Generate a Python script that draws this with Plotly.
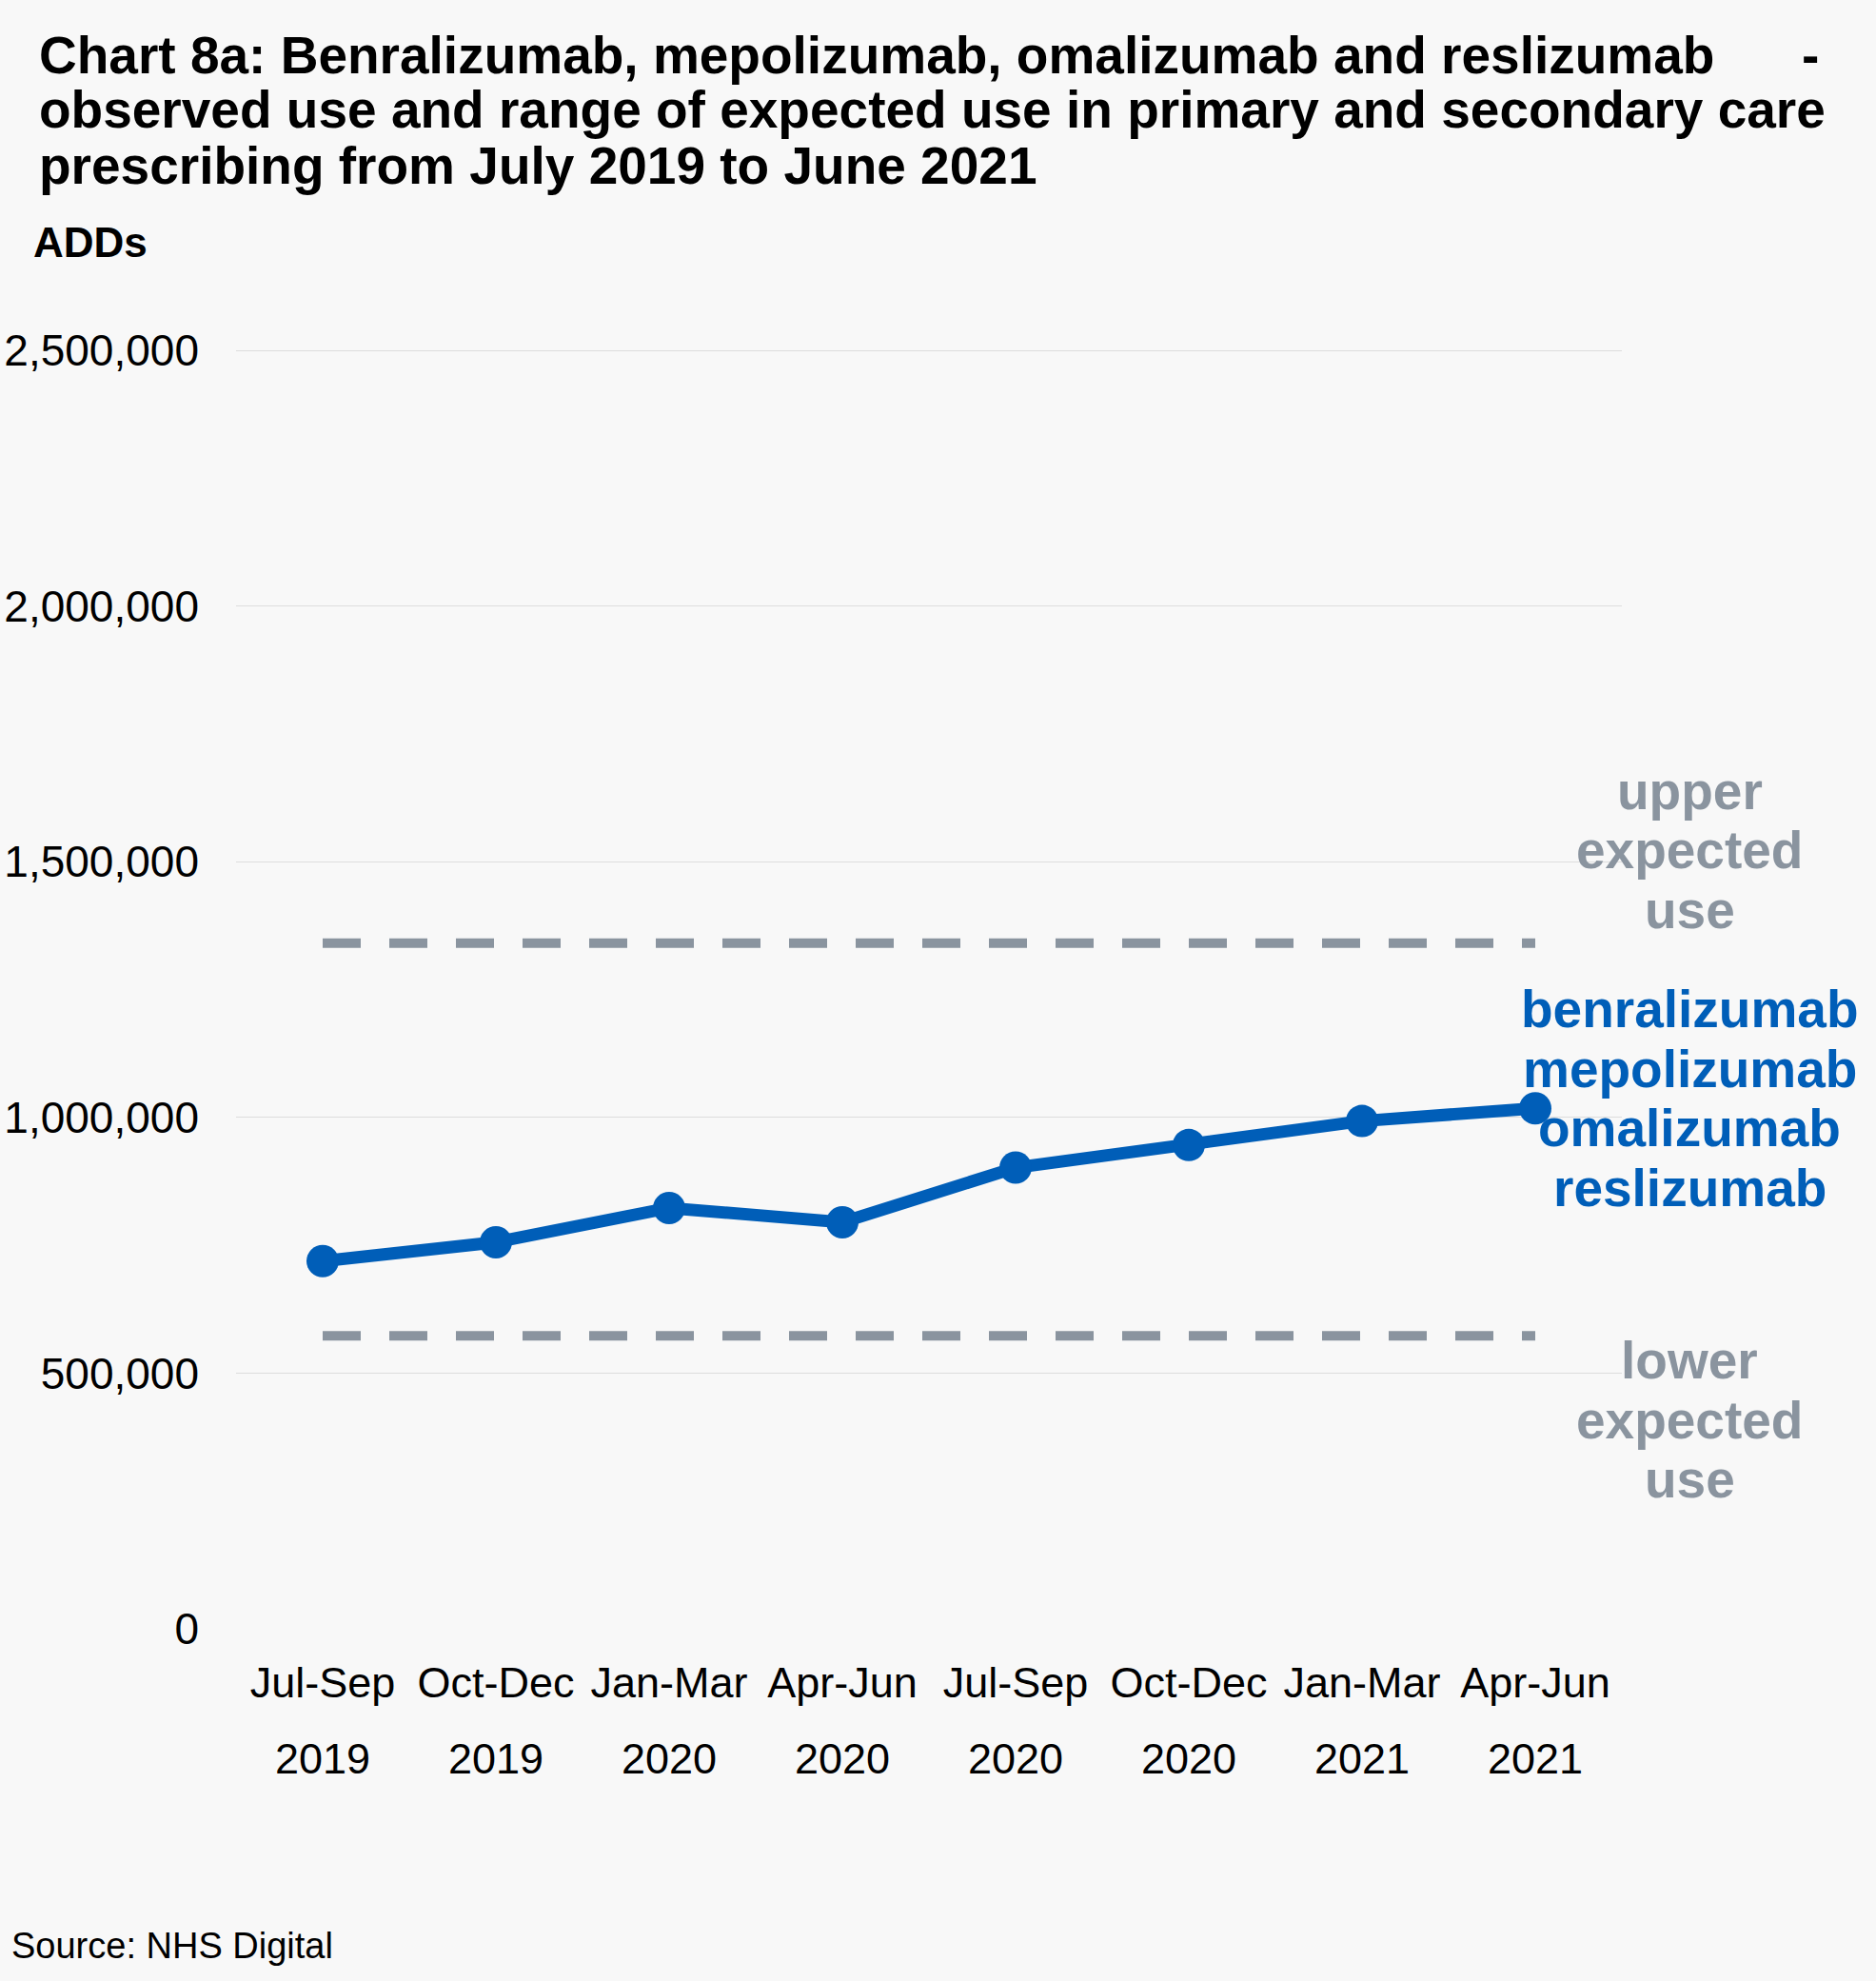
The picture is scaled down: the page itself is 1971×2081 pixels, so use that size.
import plotly.graph_objects as go

quarters = ["Jul-Sep", "Oct-Dec", "Jan-Mar", "Apr-Jun", "Jul-Sep", "Oct-Dec", "Jan-Mar", "Apr-Jun"]
years = ["2019", "2019", "2020", "2020", "2020", "2020", "2021", "2021"]
observed = [719000, 756000, 823000, 795000, 902000, 946000, 993000, 1018000]
upper_expected = [1341000] * 8
lower_expected = [573000] * 8
y_ticks = [0, 500000, 1000000, 1500000, 2000000, 2500000]

title_lines = [
    "Chart 8a: Benralizumab, mepolizumab, omalizumab and reslizumab &nbsp;&nbsp;&nbsp;&nbsp;&nbsp;-",
    "observed use and range of expected use in primary and secondary care",
    "prescribing from July 2019 to June 2021",
]
series_label = ["benralizumab", "mepolizumab", "omalizumab", "reslizumab"]
upper_label = ["upper", "expected", "use"]
lower_label = ["lower", "expected", "use"]

BLUE = "#005EB8"
GREY = "#8A949F"
BG = "#F8F8F8"
FONT = "Liberation Sans, Arial, sans-serif"

W, H = 1971, 2081
L, R, T, B = 248, 267, 366, 370
PW, PH = W - L - R, H - T - B
Y_MAX = 2504000

def px_x(px):
    return (px - L) / PW

def px_y(py):
    return (H - B - py) / PH

idx = list(range(len(quarters)))

fig = go.Figure()
fig.add_trace(go.Scatter(x=idx, y=upper_expected, mode="lines",
                         line=dict(color=GREY, width=10, dash="40px,30px"),
                         hoverinfo="skip", showlegend=False))
fig.add_trace(go.Scatter(x=idx, y=lower_expected, mode="lines",
                         line=dict(color=GREY, width=10, dash="40px,30px"),
                         hoverinfo="skip", showlegend=False))
fig.add_trace(go.Scatter(x=idx, y=observed, mode="lines+markers",
                         line=dict(color=BLUE, width=13),
                         marker=dict(color=BLUE, size=34),
                         showlegend=False))

ann = []
# title
for i, (t, yy) in enumerate(zip(title_lines, [58, 115, 174])):
    ann.append(dict(text="<b>%s</b>" % t, xref="paper", yref="paper",
                    x=px_x(39), y=px_y(yy), xanchor="left", yanchor="middle",
                    showarrow=False, font=dict(size=55, color="black", family=FONT)))
ann.append(dict(text="<b>ADDs</b>", xref="paper", yref="paper",
                x=px_x(33), y=px_y(255), xanchor="left", yanchor="middle",
                showarrow=False, font=dict(size=44, color="black", family=FONT)))
ann.append(dict(text="Source: NHS Digital", xref="paper", yref="paper",
                x=px_x(10), y=px_y(2044), xanchor="left", yanchor="middle",
                showarrow=False, font=dict(size=38, color="black", family=FONT)))
# year labels (second line of category axis)
for i, yr in enumerate(years):
    ann.append(dict(text=yr, xref="x", yref="paper", x=i, y=px_y(1847),
                    xanchor="center", yanchor="middle", showarrow=False,
                    font=dict(size=45, color="black", family=FONT)))
# right-hand labels
lab_x = px_x(1775)
for k, t in enumerate(upper_label):
    ann.append(dict(text="<b>%s</b>" % t, xref="paper", yref="y", x=lab_x, y=upper_expected[-1],
                    yshift=160 - 62.5 * k, xanchor="center", yanchor="middle", showarrow=False,
                    font=dict(size=55, color=GREY, family=FONT)))
for k, t in enumerate(series_label):
    ann.append(dict(text="<b>%s</b>" % t, xref="paper", yref="y", x=lab_x, y=observed[-1],
                    yshift=104 - 62.5 * k, xanchor="center", yanchor="middle", showarrow=False,
                    font=dict(size=55, color=BLUE, family=FONT)))
for k, t in enumerate(lower_label):
    ann.append(dict(text="<b>%s</b>" % t, xref="paper", yref="y", x=lab_x, y=lower_expected[-1],
                    yshift=-26 - 62.5 * k, xanchor="center", yanchor="middle", showarrow=False,
                    font=dict(size=55, color=GREY, family=FONT)))

fig.update_layout(
    width=W, height=H,
    margin=dict(l=L, r=R, t=T, b=B, pad=0, autoexpand=False),
    paper_bgcolor=BG, plot_bgcolor=BG,
    font=dict(family=FONT, size=45, color="black"),
    annotations=ann,
    xaxis=dict(tickmode="array", tickvals=idx, ticktext=quarters, range=[-0.5, len(idx) - 0.5],
               showgrid=False, zeroline=False, showline=False, ticks="", ticklabelstandoff=26,
               automargin=False, tickfont=dict(size=45, color="black", family=FONT)),
    yaxis=dict(range=[0, Y_MAX], tickmode="array", tickvals=y_ticks,
               ticktext=["{:,}".format(v) for v in y_ticks],
               showgrid=True, gridcolor="#DDDDDD", gridwidth=1, zeroline=False, showline=False,
               automargin=False, ticks="", ticklabelstandoff=38,
               tickfont=dict(size=46, color="black", family=FONT)),
)

fig.write_html("out.html")
